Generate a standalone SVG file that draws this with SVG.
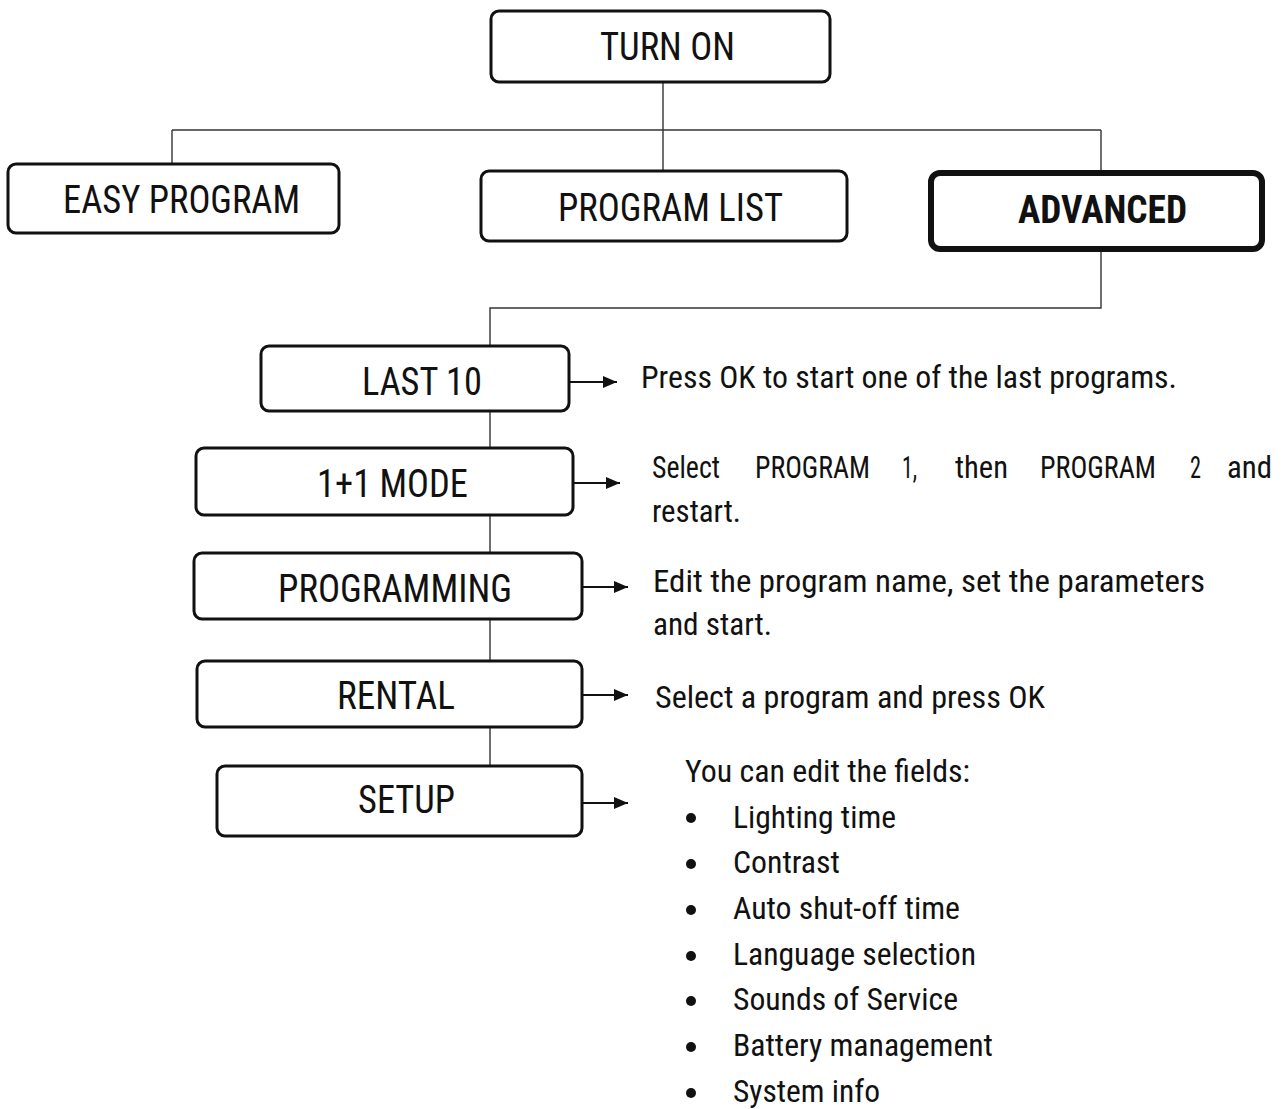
<svg xmlns="http://www.w3.org/2000/svg" width="1286" height="1109" viewBox="0 0 1286 1109">
<style>
text{font-family:"Roboto Condensed",Roboto,"Liberation Sans",sans-serif;fill:#111;}
.lbl{font-size:38px;}
.bold{font-weight:bold;}
.desc{font-size:31px;}
.box{fill:#fff;stroke:#111;stroke-width:3;}
.thick{stroke-width:6;}
.con{stroke:#333;stroke-width:1.4;fill:none;}
.arr{stroke:#111;stroke-width:2;fill:none;}
</style>
<defs>
<marker id="ah" viewBox="0 0 14 12" refX="14" refY="6" markerWidth="14" markerHeight="12" markerUnits="userSpaceOnUse" orient="auto">
<path d="M0,0 L14,6 L0,12 Z" fill="#111"/>
</marker>
</defs>
<rect width="1286" height="1109" fill="#fff"/>
<g id="connectors">
<path class="con" d="M663,83 V171"/>
<path class="con" d="M172,130 H1101"/>
<path class="con" d="M172,130 V164"/>
<path class="con" d="M1101,130 V173"/>
<path class="con" d="M1101,252 V308 H490 V765"/>
<path class="arr" d="M570,382 H617" marker-end="url(#ah)"/>
<path class="arr" d="M574,483 H620" marker-end="url(#ah)"/>
<path class="arr" d="M583,587 H628" marker-end="url(#ah)"/>
<path class="arr" d="M583,695 H628" marker-end="url(#ah)"/>
<path class="arr" d="M583,803 H628" marker-end="url(#ah)"/>
</g>
<g id="turn-on">
<rect class="box" x="491" y="11" width="339" height="71" rx="8"/>
<text class="lbl" x="600" y="60" textLength="135" lengthAdjust="spacingAndGlyphs">TURN ON</text>
</g>
<g id="easy-program">
<rect class="box" x="8" y="164" width="331" height="69" rx="8"/>
<text class="lbl" x="63" y="213" textLength="237" lengthAdjust="spacingAndGlyphs">EASY PROGRAM</text>
</g>
<g id="program-list">
<rect class="box" x="481" y="171" width="366" height="70" rx="8"/>
<text class="lbl" x="558" y="221" textLength="225" lengthAdjust="spacingAndGlyphs">PROGRAM LIST</text>
</g>
<g id="advanced">
<rect class="box thick" x="931" y="173" width="331" height="76" rx="9"/>
<text class="lbl bold" x="1018" y="223" textLength="169" lengthAdjust="spacingAndGlyphs">ADVANCED</text>
</g>
<g id="last-10">
<rect class="box" x="261" y="346" width="308" height="65" rx="8"/>
<text class="lbl" x="362" y="395" textLength="120" lengthAdjust="spacingAndGlyphs">LAST 10</text>
</g>
<g id="mode-1-1">
<rect class="box" x="196" y="448" width="377" height="67" rx="8"/>
<text class="lbl" x="317" y="497" textLength="151" lengthAdjust="spacingAndGlyphs">1+1 MODE</text>
</g>
<g id="programming">
<rect class="box" x="194" y="553" width="388" height="66" rx="8"/>
<text class="lbl" x="278" y="602" textLength="234" lengthAdjust="spacingAndGlyphs">PROGRAMMING</text>
</g>
<g id="rental">
<rect class="box" x="197" y="661" width="385" height="66" rx="8"/>
<text class="lbl" x="337" y="709" textLength="118" lengthAdjust="spacingAndGlyphs">RENTAL</text>
</g>
<g id="setup">
<rect class="box" x="217" y="766" width="365" height="70" rx="8"/>
<text class="lbl" x="358" y="813" textLength="97" lengthAdjust="spacingAndGlyphs">SETUP</text>
</g>
<g id="descriptions">
<text class="desc" x="641" y="388" textLength="536" lengthAdjust="spacingAndGlyphs">Press OK to start one of the last programs.</text>
<text class="desc" x="652" y="478" textLength="68" lengthAdjust="spacingAndGlyphs">Select</text>
<text class="desc" x="755" y="478" textLength="115" lengthAdjust="spacingAndGlyphs">PROGRAM</text>
<text class="desc" x="902" y="478" textLength="15" lengthAdjust="spacingAndGlyphs">1,</text>
<text class="desc" x="955" y="478" textLength="53" lengthAdjust="spacingAndGlyphs">then</text>
<text class="desc" x="1040" y="478" textLength="116" lengthAdjust="spacingAndGlyphs">PROGRAM</text>
<text class="desc" x="1190" y="478" textLength="11" lengthAdjust="spacingAndGlyphs">2</text>
<text class="desc" x="1227" y="478" textLength="45" lengthAdjust="spacingAndGlyphs">and</text>
<text class="desc" x="652" y="522" textLength="89" lengthAdjust="spacingAndGlyphs">restart.</text>
<text class="desc" x="653" y="592" textLength="552" lengthAdjust="spacingAndGlyphs">Edit the program name, set the parameters</text>
<text class="desc" x="653" y="635" textLength="119" lengthAdjust="spacingAndGlyphs">and start.</text>
<text class="desc" x="655" y="708" textLength="390" lengthAdjust="spacingAndGlyphs">Select a program and press OK</text>
<text class="desc" x="685" y="782" textLength="285" lengthAdjust="spacingAndGlyphs">You can edit the fields:</text>
<g fill="#111">
<circle cx="691" cy="818" r="5"/>
<circle cx="691" cy="864" r="5"/>
<circle cx="691" cy="910" r="5"/>
<circle cx="691" cy="956" r="5"/>
<circle cx="691" cy="1001" r="5"/>
<circle cx="691" cy="1047" r="5"/>
<circle cx="691" cy="1093" r="5"/>
</g>
<text class="desc" x="733" y="828" textLength="163" lengthAdjust="spacingAndGlyphs">Lighting time</text>
<text class="desc" x="733" y="873" textLength="107" lengthAdjust="spacingAndGlyphs">Contrast</text>
<text class="desc" x="733" y="919" textLength="227" lengthAdjust="spacingAndGlyphs">Auto shut-off time</text>
<text class="desc" x="733" y="965" textLength="243" lengthAdjust="spacingAndGlyphs">Language selection</text>
<text class="desc" x="733" y="1010" textLength="225" lengthAdjust="spacingAndGlyphs">Sounds of Service</text>
<text class="desc" x="733" y="1056" textLength="260" lengthAdjust="spacingAndGlyphs">Battery management</text>
<text class="desc" x="733" y="1102" textLength="147" lengthAdjust="spacingAndGlyphs">System info</text>
</g>
</svg>
